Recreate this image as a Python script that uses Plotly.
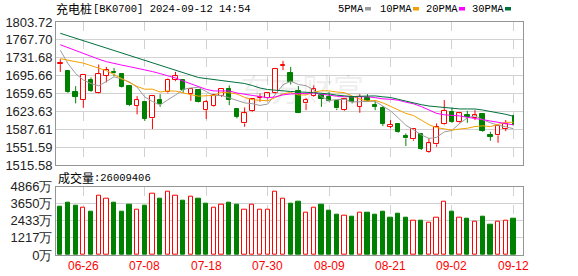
import plotly.graph_objects as go

# ---------------- data ----------------
dates = ["06-21", "06-24", "06-25", "06-26", "06-27", "06-28",
         "07-01", "07-02", "07-03", "07-04", "07-05",
         "07-08", "07-09", "07-10", "07-11", "07-12",
         "07-15", "07-16", "07-17", "07-18", "07-19",
         "07-22", "07-23", "07-24", "07-25", "07-26",
         "07-29", "07-30", "07-31", "08-01", "08-02",
         "08-05", "08-06", "08-07", "08-08", "08-09",
         "08-12", "08-13", "08-14", "08-15", "08-16",
         "08-19", "08-20", "08-21", "08-22", "08-23",
         "08-26", "08-27", "08-28", "08-29", "08-30",
         "09-02", "09-03", "09-04", "09-05", "09-06",
         "09-09", "09-10", "09-11", "09-12"]

open_ = [1719.0, 1705.4, 1663.2, 1646.6, 1688.1, 1660.0, 1695.4, 1702.2, 1698.8, 1675.3,
         1635.1, 1642.0, 1609.9, 1646.6, 1662.0, 1686.7, 1686.7, 1658.6, 1666.7, 1626.5,
         1634.5, 1655.2, 1668.7, 1627.9, 1599.8, 1623.9, 1651.2, 1650.0, 1660.0, 1715.4,
         1701.4, 1664.6, 1640.0, 1654.6, 1656.0, 1653.2, 1645.2, 1626.5, 1652.0, 1633.1,
         1651.2, 1636.5, 1631.1, 1593.0, 1598.4, 1574.3, 1567.7, 1577.8, 1542.8, 1557.7,
         1597.8, 1621.9, 1601.8, 1615.9, 1609.9, 1617.9, 1575.7, 1575.7, 1589.0, 1615.0]
high = [1728.9, 1706.8, 1674.7, 1697.0, 1692.2, 1718.2, 1713.4, 1711.4, 1700.2, 1676.7,
        1654.6, 1643.2, 1656.0, 1658.6, 1690.1, 1703.4, 1688.1, 1670.1, 1668.1, 1646.6,
        1658.6, 1670.7, 1676.1, 1630.0, 1631.9, 1650.0, 1660.0, 1662.0, 1711.4, 1725.4,
        1713.4, 1675.0, 1651.2, 1676.1, 1658.6, 1663.2, 1646.6, 1650.0, 1654.6, 1658.6,
        1658.6, 1646.6, 1634.5, 1606.5, 1598.4, 1579.8, 1589.0, 1579.8, 1569.7, 1599.8,
        1646.6, 1631.9, 1621.9, 1625.1, 1626.5, 1618.5, 1583.0, 1598.4, 1606.5, 1617.0]
low = [1703.4, 1661.2, 1640.0, 1631.1, 1663.2, 1659.2, 1682.1, 1694.7, 1672.0, 1634.5,
       1617.9, 1605.0, 1588.4, 1633.1, 1660.0, 1684.7, 1661.2, 1645.2, 1642.0, 1608.5,
       1633.1, 1653.2, 1636.5, 1609.9, 1593.0, 1622.5, 1643.2, 1648.0, 1658.6, 1706.8,
       1678.1, 1620.5, 1626.5, 1653.2, 1633.1, 1643.2, 1626.5, 1625.1, 1640.0, 1621.1,
       1643.2, 1626.5, 1594.4, 1589.8, 1581.0, 1554.3, 1564.9, 1546.3, 1540.8, 1552.9,
       1596.4, 1601.0, 1599.8, 1601.0, 1606.5, 1583.0, 1564.9, 1560.9, 1584.4, 1595.0]
close = [1721.0, 1663.2, 1653.2, 1696.8, 1665.2, 1698.8, 1706.8, 1700.2, 1673.3, 1636.5,
         1646.6, 1608.5, 1654.6, 1638.0, 1688.1, 1694.7, 1666.7, 1668.7, 1643.2, 1642.5,
         1656.6, 1669.3, 1646.6, 1613.1, 1619.9, 1648.0, 1652.6, 1660.0, 1710.2, 1716.8,
         1682.7, 1621.1, 1646.6, 1668.1, 1649.2, 1644.6, 1629.9, 1648.6, 1642.6, 1653.2,
         1644.6, 1633.1, 1598.4, 1596.4, 1582.4, 1569.7, 1587.8, 1548.3, 1559.7, 1593.0,
         1624.5, 1603.0, 1619.9, 1613.1, 1615.9, 1584.4, 1572.9, 1594.4, 1597.8, 1596.0]
prev_close = 1731.0  # close of the session before the first one shown

volume_wan = [3410, 3694, 3481, 3388, 3055, 4241, 4028, 3694, 3055, 3552,
              3246, 3481, 4383, 3978, 4525, 4241, 3836, 4170, 3978, 3623,
              3388, 3552, 3694, 3552, 3246, 3552, 3246, 3246, 4525, 4028,
              3646, 3765, 3031, 3388, 3552, 3126, 2842, 2771, 2700, 3031,
              3031, 2842, 3055, 2628, 2913, 2628, 2463, 2415, 2273, 2676,
              3812, 3055, 2676, 2557, 2344, 2700, 2131, 2344, 2415, 2601]
last_volume = 26009406

ma5 = [1747.0, 1720.0, 1700.0, 1687.0, 1679.9, 1675.4, 1684.2, 1693.6, 1688.9, 1683.1,
       1672.7, 1653.0, 1643.9, 1636.8, 1647.2, 1656.8, 1668.4, 1671.2, 1672.3, 1663.2,
       1655.5, 1656.1, 1651.6, 1645.6, 1641.1, 1639.4, 1636.0, 1638.7, 1658.1, 1677.5,
       1684.5, 1678.2, 1675.5, 1667.1, 1653.5, 1645.9, 1647.7, 1648.1, 1643.0, 1643.8,
       1643.8, 1644.4, 1634.4, 1625.1, 1611.0, 1596.0, 1586.9, 1576.9, 1569.6, 1571.7,
       1582.7, 1585.7, 1600.0, 1610.7, 1615.3, 1607.3, 1601.2, 1596.1, 1593.1, 1589.1]
ma10 = [1730.0, 1727.0, 1724.0, 1721.0, 1716.0, 1711.0, 1706.0, 1698.0, 1690.0, 1681.5,
        1674.1, 1668.6, 1668.7, 1662.9, 1665.1, 1664.7, 1660.7, 1657.6, 1654.6, 1655.2,
        1656.2, 1662.2, 1661.4, 1659.0, 1652.1, 1647.5, 1646.1, 1645.2, 1651.9, 1659.3,
        1661.9, 1657.1, 1657.1, 1662.6, 1665.5, 1665.2, 1662.9, 1661.8, 1655.0, 1648.7,
        1644.9, 1646.1, 1641.2, 1634.1, 1627.4, 1619.9, 1615.7, 1605.7, 1597.4, 1591.3,
        1589.3, 1586.3, 1588.5, 1590.1, 1593.5, 1595.0, 1593.5, 1598.1, 1601.9, 1602.2]
ma20 = [1758.0, 1752.0, 1746.0, 1740.0, 1735.0, 1729.0, 1724.0, 1720.0, 1717.0, 1714.0,
        1711.0, 1707.0, 1704.0, 1700.0, 1696.0, 1691.0, 1685.0, 1679.0, 1673.0, 1668.3,
        1665.1, 1665.4, 1665.1, 1660.9, 1658.6, 1656.1, 1653.4, 1651.4, 1653.2, 1657.2,
        1659.0, 1659.7, 1659.3, 1660.8, 1658.8, 1656.3, 1654.5, 1653.5, 1653.5, 1654.0,
        1653.4, 1651.6, 1649.2, 1648.3, 1646.5, 1642.5, 1639.3, 1633.7, 1626.2, 1620.0,
        1617.1, 1616.2, 1614.9, 1612.1, 1610.4, 1607.4, 1604.6, 1601.9, 1599.6, 1596.9]
ma30 = [1781.0, 1776.0, 1771.0, 1766.0, 1761.0, 1756.0, 1751.0, 1746.0, 1741.0, 1736.0,
        1731.0, 1726.0, 1721.0, 1716.0, 1711.0, 1706.0, 1701.0, 1696.0, 1692.0, 1690.0,
        1688.0, 1686.0, 1685.0, 1683.0, 1680.0, 1676.0, 1671.0, 1668.0, 1666.0, 1665.3,
        1664.0, 1662.6, 1662.4, 1661.5, 1660.9, 1659.1, 1656.6, 1654.8, 1653.8, 1654.4,
        1654.3, 1655.1, 1653.3, 1651.9, 1648.3, 1644.2, 1641.6, 1637.5, 1634.8, 1633.1,
        1632.0, 1629.8, 1628.9, 1628.9, 1628.8, 1626.7, 1624.0, 1621.8, 1618.1, 1614.1]

price_ticks = [1515.58, 1551.59, 1587.61, 1623.63, 1659.65, 1695.66, 1731.68, 1767.70, 1803.72]
vol_ticks = [0, 1217, 2433, 3650, 4866]
tick_dates = ["06-26", "07-08", "07-18", "07-30", "08-09", "08-21", "09-02", "09-12"]

title_name = "充电桩"
title_code = "[BK0700] 2024-09-12 14:54"
vol_name = "成交量"
ma_names = ["5PMA", "10PMA", "20PMA", "30PMA"]

# ---------------- styles ----------------
RED = "#ff0000"
GREEN = "#008000"
MA_COLORS = ["#9a9a9a", "#f5a000", "#ff00ff", "#00703c"]
GRID = "#d2d2d2"
FRAME = "#959595"
MONO = "Liberation Mono, DejaVu Sans Mono, monospace"
SANS = "Liberation Sans, Arial, sans-serif"
CJK = "Noto Sans CJK SC, sans-serif"

n = len(dates)
idx = list(range(n))
tick_idx = [dates.index(d) for d in tick_dates]

# pixel helpers (plot area 56..523 x 22..255)
PL, PR, PT, PB = 56, 523, 22, 255
def px_x(px):
    return (px - PL) / (PR - PL)
def px_y(py):
    return (PB - py) / (PB - PT)

fig = go.Figure()

# ---- candles: wicks (outside the bodies) ----
def wick_xy(sel):
    xs, ys = [], []
    for i in sel:
        top = max(open_[i], close[i])
        bot = min(open_[i], close[i])
        xs += [i, i, None, i, i, None]
        ys += [low[i], bot, None, top, high[i], None]
    return xs, ys

up = [i for i in idx if close[i] >= open_[i]]
down = [i for i in idx if close[i] < open_[i]]

for sel, col in ((up, RED), (down, GREEN)):
    wx, wy = wick_xy(sel)
    fig.add_trace(go.Scatter(x=wx, y=wy, mode="lines", line=dict(color=col, width=1),
                             hoverinfo="skip", xaxis="x", yaxis="y"))

# ---- candle bodies ----
BODY_W = 0.58
def body(sel):
    base = [min(open_[i], close[i]) for i in sel]
    h = [max(abs(close[i] - open_[i]), 0.7) for i in sel]
    return base, h

b, h = body(up)
fig.add_trace(go.Bar(x=up, y=h, base=b, width=BODY_W, marker=dict(color="white", line=dict(color=RED, width=1)),
                     xaxis="x", yaxis="y", hoverinfo="skip"))
b, h = body(down)
w_down = [BODY_W if i != n - 1 else 0.1 for i in down]
fig.add_trace(go.Bar(x=down, y=h, base=b, width=w_down, marker=dict(color=GREEN, line=dict(color=GREEN, width=1)),
                     xaxis="x", yaxis="y", hoverinfo="skip"))

# ---- moving averages ----
for vals, col in zip((ma5, ma10, ma20, ma30), MA_COLORS):
    fig.add_trace(go.Scatter(x=idx, y=vals, mode="lines", line=dict(color=col, width=1),
                             hoverinfo="skip", xaxis="x", yaxis="y"))

# ---- volume ----
prevs = [prev_close] + close[:-1]
vup = [i for i in idx if close[i] >= prevs[i]]
vdn = [i for i in idx if close[i] < prevs[i]]
VOL_W = 0.56
fig.add_trace(go.Bar(x=vup, y=[volume_wan[i] for i in vup], width=VOL_W,
                     marker=dict(color="white", line=dict(color=RED, width=1)),
                     xaxis="x2", yaxis="y2", hoverinfo="skip"))
fig.add_trace(go.Bar(x=vdn, y=[volume_wan[i] for i in vdn], width=VOL_W,
                     marker=dict(color=GREEN, line=dict(color=GREEN, width=1)),
                     xaxis="x2", yaxis="y2", hoverinfo="skip"))

xr = [-0.56, 60.25]
common_x = dict(range=xr, tickvals=tick_idx, showgrid=True, gridcolor=GRID, griddash="dash", gridwidth=1,
                zeroline=False, showline=True, linecolor=FRAME, linewidth=1, mirror=True, fixedrange=True,
                automargin=False, showticklabels=False, ticks="")
common_y = dict(showgrid=True, gridcolor=GRID, gridwidth=1, zeroline=False, showline=True,
                linecolor=FRAME, linewidth=1, mirror=True, ticks="", fixedrange=True, automargin=False,
                tickfont=dict(family=SANS, size=13, color="#222222"))

fig.update_layout(
    template="none",
    width=578, height=276,
    margin=dict(l=PL, r=578 - PR, t=PT, b=276 - PB, pad=0, autoexpand=False),
    paper_bgcolor="white", plot_bgcolor="white",
    showlegend=False, barmode="overlay", bargap=0,
    font=dict(family=SANS, size=12, color="#222222"),
    xaxis=dict(domain=[0, 1], anchor="y", **common_x),
    xaxis2=dict(domain=[0, 1], anchor="y2", **common_x),
    yaxis=dict(domain=[px_y(165.3), 1], range=[price_ticks[0], price_ticks[-1]], tickvals=price_ticks,
               ticktext=[f"{v:.2f}" for v in price_ticks], **common_y),
    yaxis2=dict(domain=[0, px_y(186.7)], range=[0, vol_ticks[-1]], tickvals=vol_ticks,
                ticktext=[f"{v}万" for v in vol_ticks], **common_y),
)

ann = []
def text(px, py, s, family, size, color="#000000", anchor="left"):
    ann.append(dict(x=px_x(px), y=px_y(py), xref="paper", yref="paper", text=s, showarrow=False,
                    xanchor=anchor, yanchor="middle", borderpad=0, borderwidth=0,
                    font=dict(family=family, size=size, color=color)))

# date labels under the volume panel (placed at their trading-day index)
for d, ti in zip(tick_dates, tick_idx):
    ann.append(dict(x=ti, y=px_y(266), xref="x2", yref="paper", text=d, showarrow=False,
                    xanchor="center", yanchor="middle", borderpad=0, borderwidth=0,
                    font=dict(family=SANS, size=12, color=RED)))

# title
text(56, 8.5, title_name, CJK, 12)
text(93, 8.5, title_code, MONO, 10.5)
# legend (text then colour chip)
leg_text_x = [338, 380, 426, 472]
leg_chip_x = [365, 413, 459, 505]
shapes = []
for name, tx, cx, col in zip(ma_names, leg_text_x, leg_chip_x, MA_COLORS):
    text(tx, 8.5, name, MONO, 10.5)
    shapes.append(dict(type="rect", xref="paper", yref="paper", x0=px_x(cx), x1=px_x(cx + 6),
                       y0=px_y(10.5), y1=px_y(7.0), fillcolor=col, line=dict(width=0)))
# volume caption
text(58, 177.5, vol_name, CJK, 12)
text(94, 177.5, f":{last_volume}", MONO, 10.5)
# faint watermark
ann.append(dict(x=px_x(302), y=px_y(87), xref="paper", yref="paper", text="东方财富", showarrow=False,
                xanchor="center", yanchor="middle",
                font=dict(family=CJK, size=31, color="rgba(120,120,120,0.13)")))

fig.update_layout(annotations=ann, shapes=shapes)

fig.write_html("out.html", config={"displayModeBar": False})
